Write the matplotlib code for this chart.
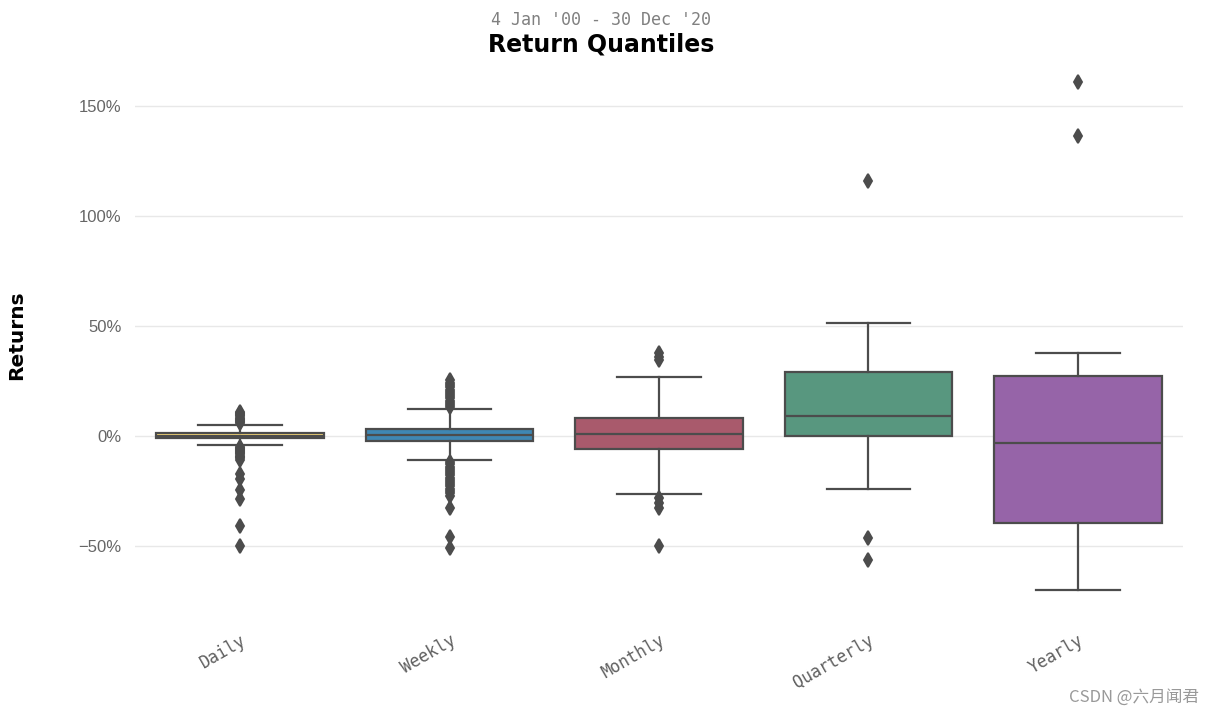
import matplotlib
matplotlib.use("Agg")
import matplotlib.pyplot as plt
from matplotlib.ticker import FuncFormatter

# Return quantiles (in %)
categories = ["Daily", "Weekly", "Monthly", "Quarterly", "Yearly"]
whislo = [-4.4, -11.0, -26.4, -24.2, -70.0]
q1 = [-1.0, -2.3, -5.9, 0.0, -39.7]
med = [0.1, 0.5, 0.9, 8.8, -3.3]
q3 = [1.2, 3.2, 8.2, 29.2, 27.0]
whishi = [5.0, 12.1, 26.8, 51.2, 37.6]
fliers = [
    [5.8, 6.3, 6.8, 7.3, 7.8, 8.3, 8.8, 9.3, 9.8, 10.3, 10.8,
     -5.0, -5.5, -6.0, -6.5, -7.0, -7.5, -8.0, -8.5, -9.0, -9.5, -10.0, -11.0,
     -17.5, -19.5, -24.5, -28.6, -41.0, -50.3],
    [13.0, 14.0, 15.0, 16.0, 17.0, 18.0, 19.0, 20.0, 21.0, 22.0, 23.0, 24.0, 25.5,
     -12.0, -13.0, -14.0, -15.0, -16.0, -17.0, -18.0, -19.0, -20.0, -21.0, -22.0,
     -23.0, -24.0, -25.0, -26.0, -27.5, -33.0, -46.0, -51.0],
    [34.5, 36.0, 37.5, -28.5, -30.5, -32.7, -50.3],
    [115.8, -46.5, -56.4],
    [136.5, 161.0],
]
colors = ["#fedd78", "#3f87b3", "#a95a6c", "#58977f", "#9664a8"]

stats = []
for i in range(len(categories)):
    stats.append(dict(label=categories[i], whislo=whislo[i], q1=q1[i], med=med[i],
                      q3=q3[i], whishi=whishi[i], fliers=fliers[i]))

fig = plt.figure(figsize=(12.16, 7.16), dpi=100)
ax = fig.add_axes([0.1114, 0.141, 0.8611, 0.7808])

line_c = "#4c4c4c"
bp = ax.bxp(stats, positions=range(len(categories)), widths=0.8, capwidths=0.4,
            patch_artist=True, manage_ticks=False,
            boxprops=dict(edgecolor=line_c, linewidth=1.6),
            medianprops=dict(color=line_c, linewidth=1.6),
            whiskerprops=dict(color=line_c, linewidth=1.6),
            capprops=dict(color=line_c, linewidth=1.6),
            flierprops=dict(marker="d", markerfacecolor=line_c, markeredgecolor=line_c,
                            markersize=7.5, markeredgewidth=1.4))
for patch, c in zip(bp["boxes"], colors):
    patch.set_facecolor(c)

ax.set_xlim(-0.5, len(categories) - 0.5)
ax.set_ylim(-81.5, 172.7)
ax.set_yticks([-50, 0, 50, 100, 150])
ax.yaxis.set_major_formatter(FuncFormatter(lambda v, _: f"{v:.0f}%".replace("-", "\u2212")))
ax.set_xticks(range(len(categories)))
ax.set_xticklabels(categories, rotation=30, ha="right", rotation_mode="anchor",
                   family="DejaVu Sans Mono", fontsize=12, color="#606060")
for t in ax.get_yticklabels():
    t.set_family("Liberation Sans")
    t.set_fontsize(12)
    t.set_color("#666666")
ax.tick_params(length=0, pad=10)
ax.tick_params(axis="x", pad=12)
ax.yaxis.grid(True, color="#e8e8e8", linewidth=1)
ax.set_axisbelow(True)
for s in ax.spines.values():
    s.set_visible(False)

ax.set_ylabel("Returns", fontweight="bold", fontsize=14.5, labelpad=38)
fig.text(0.4942, 0.972, "4 Jan '00 - 30 Dec '20", ha="center", va="center",
         family="DejaVu Sans Mono", fontsize=12, color="gray")
fig.text(0.4942, 0.938, "Return Quantiles", ha="center", va="center",
         fontweight="bold", fontsize=17)
fig.text(0.986, 0.026, "CSDN @六月闻君", ha="right", va="center", fontsize=12,
         color="#999999", family=["Noto Sans CJK SC", "DejaVu Sans"])

fig.savefig("out.png", dpi=100)
